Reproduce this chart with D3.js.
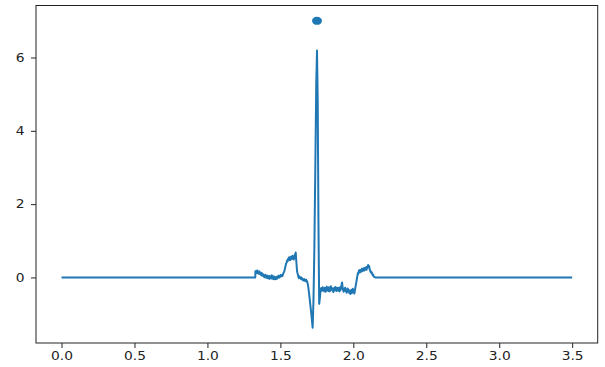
<!DOCTYPE html>
<html>
<head>
<meta charset="utf-8">
<script src="https://cdn.jsdelivr.net/npm/d3@7"></script>
<style>
  body { margin: 0; background: #fff; }
  .tick text { font-family: "DejaVu Sans", sans-serif; font-size: 12px; fill: #222; }
</style>
</head>
<body>
<script>
var width = 605,
    height = 367;
var margin = {top: 5.5, right: 7.3, bottom: 24, left: 36};

// signal pieces, [time (s), value]
var flatStart = [[0, 0], [1.328, 0]];
var preP = [
  [1.329, 0.17], [1.3325, 0.13], [1.336, 0.18], [1.3395, 0.12], [1.343, 0.19], [1.3465, 0.11],
  [1.350, 0.15], [1.3535, 0.10], [1.357, 0.16], [1.3605, 0.09], [1.364, 0.12], [1.3675, 0.07],
  [1.371, 0.13], [1.3745, 0.05], [1.378, 0.09], [1.3815, 0.04], [1.385, 0.08], [1.3885, 0.01],
  [1.392, 0.05], [1.3955, 0.00], [1.399, 0.07], [1.4025, 0.01], [1.406, 0.04], [1.4095, -0.02],
  [1.413, 0.05], [1.4165, -0.01], [1.420, 0.03], [1.4235, -0.04], [1.427, 0.04], [1.4305, -0.02],
  [1.434, 0.02], [1.4375, -0.03], [1.441, 0.06], [1.4445, -0.01], [1.448, 0.02], [1.4515, -0.05],
  [1.455, 0.03], [1.4585, -0.04], [1.462, 0.00], [1.4655, -0.05], [1.469, 0.01], [1.4725, -0.04],
  [1.476, 0.02], [1.4795, -0.03], [1.483, 0.03], [1.4865, 0.00], [1.490, 0.05], [1.4935, 0.00],
  [1.497, 0.04], [1.5005, 0.02], [1.504, 0.07], [1.5075, 0.03], [1.511, 0.06], [1.5145, 0.04],
  [1.518, 0.09]];
var pWave = [
  [1.525, 0.15], [1.5285, 0.19], [1.532, 0.26], [1.5355, 0.31], [1.539, 0.38], [1.5425, 0.40],
  [1.546, 0.46], [1.5495, 0.44], [1.553, 0.51], [1.5565, 0.48], [1.560, 0.55], [1.5635, 0.50],
  [1.567, 0.47], [1.5705, 0.54], [1.574, 0.57], [1.5775, 0.50], [1.581, 0.53], [1.5845, 0.59],
  [1.588, 0.55], [1.5915, 0.49], [1.595, 0.52], [1.5985, 0.60], [1.600, 0.63], [1.603, 0.58],
  [1.605, 0.68], [1.610, 0.40], [1.614, 0.18], [1.617, 0.12], [1.620, 0.08], [1.6235, 0.02],
  [1.627, -0.02], [1.6305, 0.03], [1.634, 0.01], [1.6375, -0.03], [1.641, -0.04], [1.6445, 0.00],
  [1.648, -0.03], [1.6515, -0.07], [1.655, -0.05], [1.6585, -0.08], [1.662, -0.04], [1.6655, -0.09],
  [1.669, -0.07], [1.6725, -0.10], [1.676, -0.06], [1.6795, -0.11], [1.683, -0.10]];
var qrs = [
  [1.690, -0.22], [1.697, -0.45], [1.704, -0.70], [1.711, -0.95], [1.717, -1.20], [1.721, -1.37],
  [1.727, -0.60], [1.733, 0.8], [1.740, 3.2], [1.746, 5.3], [1.751, 6.19], [1.756, 4.8],
  [1.761, 1.5], [1.766, -0.72], [1.771, -0.55]];
var stSegment = [
  [1.776, -0.30], [1.7795, -0.37], [1.783, -0.29], [1.7865, -0.36], [1.790, -0.27], [1.7935, -0.35],
  [1.797, -0.30], [1.8005, -0.38], [1.804, -0.28], [1.8075, -0.34], [1.811, -0.39], [1.8145, -0.29],
  [1.818, -0.25], [1.8215, -0.35], [1.825, -0.30], [1.8285, -0.37], [1.832, -0.27], [1.8355, -0.34],
  [1.839, -0.38], [1.8425, -0.30], [1.846, -0.24], [1.8495, -0.33], [1.853, -0.29], [1.8565, -0.36],
  [1.860, -0.30], [1.8635, -0.40], [1.867, -0.33], [1.8705, -0.28], [1.874, -0.35], [1.8775, -0.26],
  [1.881, -0.31], [1.8845, -0.37], [1.888, -0.29], [1.8915, -0.35], [1.895, -0.28], [1.8985, -0.36],
  [1.902, -0.31], [1.9055, -0.38], [1.909, -0.27], [1.9125, -0.34], [1.916, -0.30], [1.9195, -0.20],
  [1.923, -0.14], [1.9265, -0.27], [1.930, -0.34], [1.9335, -0.39], [1.937, -0.31], [1.9405, -0.36],
  [1.944, -0.28], [1.9475, -0.37], [1.951, -0.33], [1.9545, -0.42], [1.958, -0.35], [1.9615, -0.30],
  [1.965, -0.38], [1.9685, -0.34], [1.972, -0.42], [1.9755, -0.37], [1.979, -0.45], [1.9825, -0.38],
  [1.986, -0.34], [1.9895, -0.43], [1.993, -0.37], [1.9965, -0.31], [2.000, -0.40], [2.0035, -0.35],
  [2.007, -0.44], [2.0105, -0.36], [2.014, -0.28]];
var tWave = [
  [2.021, -0.12], [2.028, 0.05], [2.0315, 0.12], [2.035, 0.10], [2.0385, 0.19], [2.042, 0.15],
  [2.0455, 0.20], [2.049, 0.14], [2.0525, 0.21], [2.056, 0.18], [2.0595, 0.24], [2.063, 0.17],
  [2.0665, 0.23], [2.070, 0.20], [2.0735, 0.26], [2.077, 0.19], [2.0805, 0.25], [2.084, 0.22],
  [2.0875, 0.28], [2.091, 0.21], [2.0945, 0.29], [2.098, 0.27], [2.1015, 0.34], [2.105, 0.30],
  [2.1085, 0.31], [2.112, 0.22], [2.1155, 0.19], [2.119, 0.14], [2.1225, 0.16], [2.126, 0.11],
  [2.1295, 0.12], [2.133, 0.06], [2.1365, 0.07], [2.140, 0.02], [2.150, 0.0]];
var flatEnd = [[3.5, 0]];

// marked peak
var peakTime = [1.751];
var peakValue = [7.0];

var xTicks = [0, 0.5, 1.0, 1.5, 2.0, 2.5, 3.0, 3.5];
var yTicks = [0, 2, 4, 6];

var data = [].concat(flatStart, preP, pWave, qrs, stSegment, tWave, flatEnd)
    .map(function(p) { return {t: p[0], v: p[1]}; });

// matplotlib style 5% padding
function pad(ext) {
    var d = (ext[1] - ext[0]) * 0.05;
    return [ext[0] - d, ext[1] + d];
}
var xExt = d3.extent(data.map(function(d) { return d.t; }).concat(peakTime));
var yExt = d3.extent(data.map(function(d) { return d.v; }).concat(peakValue));

var x = d3.scaleLinear()
    .domain(pad(xExt))
    .range([margin.left, width - margin.right]);
var y = d3.scaleLinear()
    .domain(pad(yExt))
    .range([height - margin.bottom, margin.top]);

var svg = d3.select("body").append("svg")
    .attr("width", width)
    .attr("height", height);

var line = d3.line()
    .x(function(d) { return x(d.t); })
    .y(function(d) { return y(d.v); });

svg.append("path")
    .datum(data)
    .attr("d", line)
    .attr("fill", "none")
    .attr("stroke", "#1f77b4")
    .attr("stroke-width", 2)
    .attr("stroke-linejoin", "round");

svg.selectAll(".peak")
    .data(peakTime)
    .enter()
    .append("ellipse")
    .attr("class", "peak")
    .attr("cx", function(d) { return x(d); })
    .attr("cy", function(d, i) { return y(peakValue[i]); })
    .attr("rx", 5)
    .attr("ry", 4)
    .attr("fill", "#1f77b4");

// frame
svg.append("rect")
    .attr("x", margin.left)
    .attr("y", margin.top)
    .attr("width", width - margin.left - margin.right)
    .attr("height", height - margin.top - margin.bottom)
    .attr("fill", "none")
    .attr("stroke", "#222")
    .attr("stroke-width", 1);

var xAxis = svg.append("g")
    .attr("transform", "translate(0," + (height - margin.bottom) + ")")
    .call(d3.axisBottom(x).tickValues(xTicks).tickFormat(d3.format(".1f")).tickSize(5).tickPadding(3));
var yAxis = svg.append("g")
    .attr("transform", "translate(" + margin.left + ",0)")
    .call(d3.axisLeft(y).tickValues(yTicks).tickFormat(d3.format("d")).tickSize(5).tickPadding(5));

[xAxis, yAxis].forEach(function(a) {
    a.select(".domain").remove();
    a.selectAll(".tick line").attr("stroke", "#222");
    // reference text looks a little wider than tall
    a.selectAll(".tick text").attr("transform", "scale(1.15,1)");
});
</script>
</body>
</html>
